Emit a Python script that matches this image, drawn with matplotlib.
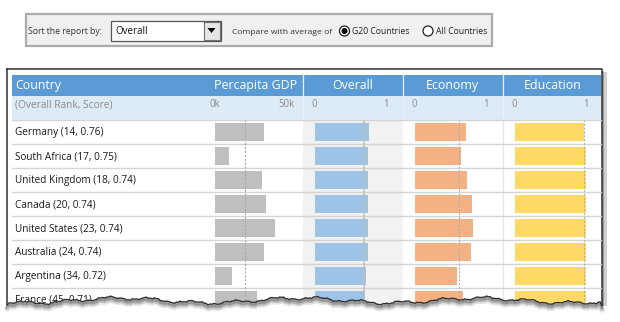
import numpy as np
import matplotlib
matplotlib.use("Agg")
import matplotlib.pyplot as plt
from matplotlib.patches import Rectangle, Circle, Polygon

# ---------------- data ----------------
countries = ["Germany", "South Africa", "United Kingdom", "Canada",
             "United States", "Australia", "Argentina", "France"]
ranks = [14, 17, 18, 20, 23, 24, 34, 45]
scores = [0.76, 0.75, 0.74, 0.74, 0.74, 0.74, 0.72, 0.71]
gdp_k = [38.5, 11.0, 36.7, 40.0, 47.0, 38.3, 13.3, 33.0]
economy = [0.72, 0.65, 0.73, 0.80, 0.82, 0.79, 0.59, 0.68]
education = [0.97, 0.995, 0.995, 0.995, 0.995, 0.995, 0.995, 0.995]
avg_gdp = 23.7
avg_overall = 0.694
avg_economy = 0.62
avg_education = 0.975
col_titles = ["Percapita GDP", "Overall", "Economy", "Education"]
gdp_ticks = ["0k", "50k"]
score_ticks = ["0", "1"]

W, H = 620, 322
FONT = "Open Sans"
plt.rcParams["font.family"] = [FONT, "DejaVu Sans"]

fig = plt.figure(figsize=(W / 100, H / 100), dpi=100)
fig.patch.set_facecolor("white")

bg = fig.add_axes([0, 0, 1, 1])
bg.set_xlim(0, W)
bg.set_ylim(H, 0)
bg.axis("off")

# ---------- control panel ----------
bg.add_patch(Rectangle((26, 14), 466, 32, facecolor="#f0f0f0",
                       edgecolor="#ababab", lw=1.6))
bg.text(28, 31.5, "Sort the report by:", fontsize=6.2, color="#333333",
        va="center", ha="left")
bg.add_patch(Rectangle((110.5, 20.5), 110, 20.5, facecolor="white",
                       edgecolor="#555555", lw=0.9))
bg.text(115, 31, "Overall", fontsize=7.0, color="#111111", va="center")
bg.add_patch(Rectangle((203.5, 21.5), 16.5, 18.5, facecolor="#e6e6e6",
                       edgecolor="#707070", lw=0.8))
bg.add_patch(Polygon([(207.5, 28), (215.5, 28), (211.5, 33)], closed=True,
                     facecolor="black", edgecolor="none"))
bg.text(232, 32, "Compare with average of", fontsize=6.1, color="#333333",
        va="center")
bg.add_patch(Circle((344.5, 31), 5, facecolor="white", edgecolor="#222222", lw=0.9))
bg.add_patch(Circle((344.5, 31), 3, facecolor="black", edgecolor="none"))
bg.text(352, 31, "G20 Countries", fontsize=6.2, color="#222222", va="center")
bg.add_patch(Circle((428, 31), 5, facecolor="white", edgecolor="#222222", lw=0.9))
bg.text(436, 31, "All Countries", fontsize=6.2, color="#222222", va="center")

# ---------- table frame ----------
TOP_ROW = 120
ROW_H = 24
n = len(countries)
TL, TR = 12, 601
# shadow on right
bg.add_patch(Rectangle((603, 72), 4, 236, facecolor="#d0d0d0", edgecolor="none"))
bg.add_patch(Rectangle((602, 71), 2, 236, facecolor="#9a9a9a", edgecolor="none"))
bg.plot([7, 602, 602], [69, 69, 308], color="#303030", lw=1.1)
bg.plot([7, 7], [69, 306], color="#303030", lw=1.1)

# header
bg.add_patch(Rectangle((TL, 74.5), TR - TL, 21.2, facecolor="#5b9bd5", edgecolor="none"))
bg.add_patch(Rectangle((TL, 95.7), TR - TL, 24.3, facecolor="#ddebf7", edgecolor="none"))
col_bounds = [302.5, 402.5, 502.5]
for xb in col_bounds:
    bg.plot([xb, xb], [74.5, 120], color="#e8f1fa", lw=0.9)
# overall column gray background (sorted column)
bg.add_patch(Rectangle((302.8, TOP_ROW), 100, ROW_H * n, facecolor="#f2f2f2",
                       edgecolor="none"))
bg.plot([502.5, 502.5], [TOP_ROW, TOP_ROW + ROW_H * n], color="#e6e6e6", lw=0.9)
for i in range(n + 1):
    yy = TOP_ROW + ROW_H * i
    bg.plot([TL, TR], [yy, yy], color="#d4d4d4", lw=1.0)

HF = 8.9
bg.text(15, 85.5, "Country", fontsize=HF, color="white", va="center")
bg.text(297, 85.5, col_titles[0], fontsize=HF, color="white", va="center", ha="right")
for t, cx in zip(col_titles[1:], [353, 452.5, 553]):
    bg.text(cx, 85.5, t, fontsize=HF, color="white", va="center", ha="center")
bg.text(15, 105, "(Overall Rank, Score)", fontsize=7.3, color="#8a8a8a", va="center")
TF = 6.9
bg.text(209.5, 104, gdp_ticks[0], fontsize=TF, color="#8a8a8a", va="center", ha="left")
bg.text(295, 104, gdp_ticks[1], fontsize=TF, color="#8a8a8a", va="center", ha="right")
for x0, x1 in [(312, 389), (412, 489), (512, 589)]:
    bg.text(x0, 104, score_ticks[0], fontsize=TF, color="#8a8a8a", va="center", ha="left")
    bg.text(x1, 104, score_ticks[1], fontsize=TF, color="#8a8a8a", va="center", ha="right")

for i, (c, r, s) in enumerate(zip(countries, ranks, scores)):
    bg.text(15, TOP_ROW + ROW_H * i + 12.5, f"{c} ({r}, {s:.2f})", fontsize=7.2,
            color="#1a1a1a", va="center")

# ---------- data bar axes ----------
def px_axes(x0, width_px):
    ax = fig.add_axes([x0 / W, (H - (TOP_ROW + ROW_H * n)) / H, width_px / W, ROW_H * n / H])
    ax.set_ylim(n - 0.5, -0.5)
    ax.axis("off")
    ax.patch.set_alpha(0)
    return ax

ypos = np.arange(n)
BAR_H = 0.79

ax_gdp = px_axes(215, 80)
ax_gdp.set_xlim(0, 62.5)
ax_gdp.barh(ypos, gdp_k, height=BAR_H, color="#bfbfbf", left=0)
ax_gdp.axvline(avg_gdp, color="#a8a8a8", lw=0.8, ls=(0, (2, 1.5)))

ax_ov = px_axes(315, 80)
ax_ov.set_xlim(0, 80 / 71)
ax_ov.barh(ypos, scores, height=BAR_H, color="#9dc3e6")
ax_ov.axvline(avg_overall, color="#bdbdbd", lw=1.1)

ax_ec = px_axes(415, 80)
ax_ec.set_xlim(0, 80 / 71)
ax_ec.barh(ypos, economy, height=BAR_H, color="#f4b183")
ax_ec.axvline(avg_economy, color="#b0b0b0", lw=0.8, ls=(0, (2, 1.5)))

ax_ed = px_axes(515, 80)
ax_ed.set_xlim(0, 80 / 71)
ax_ed.barh(ypos, education, height=BAR_H, color="#ffd966")
ax_ed.axvline(avg_education, color="#b0b0b0", lw=0.8, ls=(0, (2, 1.5)))

# ---------- torn paper edge overlay ----------
ov = fig.add_axes([0, 0, 1, 1], zorder=10)
ov.set_xlim(0, W)
ov.set_ylim(H, 0)
ov.axis("off")
ov.patch.set_alpha(0)
xs = np.linspace(7, 602, 300)
ys = (300.5 + 2.4 * np.sin(xs * 0.035 + 0.5) + 1.4 * np.sin(xs * 0.15 + 1.0)
      + 0.6 * np.sin(xs * 0.55 + 0.3) + 0.35 * np.sin(xs * 1.7))
ys[0] = 305
ys[-1] = 306
poly = np.column_stack([np.concatenate([[0], xs, [W, W, 0]]),
                        np.concatenate([[ys[0]], ys, [ys[-1], H, H]])])
ov.add_patch(Polygon(poly, closed=True, facecolor="white", edgecolor="none"))
for off, a, lw in [(4.0, 0.10, 4.0), (3.0, 0.16, 3.0), (2.0, 0.22, 2.0)]:
    ov.plot(xs, ys + off, color="black", alpha=a, lw=lw, solid_capstyle="round")
ov.plot(xs, ys, color="#303030", lw=1.0)

fig.savefig("out.png", dpi=100, facecolor="white")
